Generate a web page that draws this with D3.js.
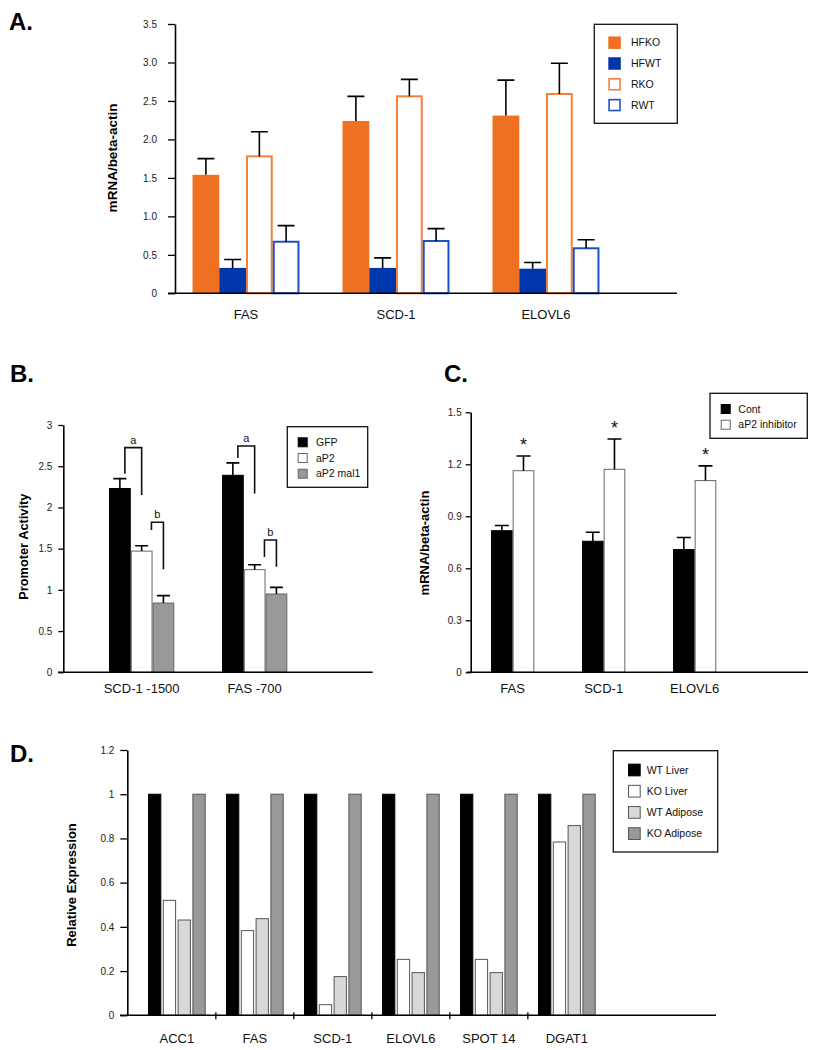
<!DOCTYPE html>
<html>
<head>
<meta charset="utf-8">
<script src="https://cdn.jsdelivr.net/npm/d3@7"></script>
<style>
  body { margin: 0; background: #fff; }
  svg { display: block; font-family: "Liberation Sans", Arial, Helvetica, sans-serif; }
</style>
</head>
<body>
<svg id="chart" width="813" height="1050"></svg>
<script>
// ---- Panel A data ----
const aCategories = ["FAS", "SCD-1", "ELOVL6"];
const aSeries = ["HFKO", "HFWT", "RKO", "RWT"];
const aValues = [
  [1.54, 2.24, 2.31],
  [0.33, 0.33, 0.32],
  [1.78, 2.56, 2.59],
  [0.67, 0.68, 0.585]
];
const aErrors = [
  [0.21, 0.32, 0.46],
  [0.11, 0.13, 0.08],
  [0.32, 0.22, 0.40],
  [0.21, 0.16, 0.11]
];
const aTicks = [0, 0.5, 1.0, 1.5, 2.0, 2.5, 3.0, 3.5];

// ---- Panel B data ----
const bCategories = ["SCD-1 -1500", "FAS -700"];
const bSeries = ["GFP", "aP2", "aP2 mal1"];
const bValues = [
  [2.23, 2.39],
  [1.47, 1.245],
  [0.84, 0.95]
];
const bErrors = [
  [0.12, 0.15],
  [0.065, 0.06],
  [0.09, 0.08]
];
const bTicks = [0, 0.5, 1, 1.5, 2, 2.5, 3];
// significance brackets: category, from series, to series, heights in data units
const bBrackets = [
  { cat: "SCD-1 -1500", label: "a", from: 0, to: 1, top: 2.725, leftEnd: 2.41, rightEnd: 2.15 },
  { cat: "SCD-1 -1500", label: "b", from: 1, to: 2, top: 1.82, leftEnd: 1.725, rightEnd: 1.25 },
  { cat: "FAS -700", label: "a", from: 0, to: 1, top: 2.745, leftEnd: 2.60, rightEnd: 2.17 },
  { cat: "FAS -700", label: "b", from: 1, to: 2, top: 1.605, leftEnd: 1.40, rightEnd: 1.28 }
];

// ---- Panel C data ----
const cCategories = ["FAS", "SCD-1", "ELOVL6"];
const cSeries = ["Cont", "aP2 inhibitor"];
const cValues = [
  [0.817, 0.756, 0.708],
  [1.163, 1.171, 1.106]
];
const cErrors = [
  [0.03, 0.052, 0.07],
  [0.085, 0.175, 0.085]
];
const cMarks = ["*", "*", "*"];
const cTicks = [0, 0.3, 0.6, 0.9, 1.2, 1.5];

// ---- Panel D data ----
const dCategories = ["ACC1", "FAS", "SCD-1", "ELOVL6", "SPOT 14", "DGAT1"];
const dSeries = ["WT Liver", "KO Liver", "WT Adipose", "KO Adipose"];
const dValues = [
  [1, 1, 1, 1, 1, 1],
  [0.52, 0.383, 0.048, 0.253, 0.253, 0.784],
  [0.431, 0.437, 0.175, 0.193, 0.193, 0.858],
  [1, 1, 1, 1, 1, 1]
];
const dTicks = [0, 0.2, 0.4, 0.6, 0.8, 1, 1.2];

const svg = d3.select("#chart");

// flatten series x category into rows
function rows(cats, series, values, errors) {
  const out = [];
  series.forEach((s, si) => cats.forEach((c, ci) => {
    out.push({ cat: c, series: s, si: si, value: values[si][ci], err: errors ? errors[si][ci] : 0 });
  }));
  return out;
}

function yAxis(y, x, ticks, size, pad, fmt) {
  const g = svg.append("g")
    .attr("transform", `translate(${x},0)`)
    .call(d3.axisLeft(y).tickValues(ticks).tickSize(size).tickSizeOuter(0)
      .tickPadding(pad).tickFormat(fmt || d3.format("")));
  g.select(".domain").attr("stroke-width", 1.6);
  g.selectAll(".tick line").attr("stroke-width", 1.3);
  g.selectAll(".tick text").attr("font-size", 10).attr("fill", "#222")
    .attr("font-family", "Liberation Sans, Arial, sans-serif");
  return g;
}

function baseline(x1, x2, yy) {
  svg.append("line").attr("x1", x1).attr("x2", x2).attr("y1", yy).attr("y2", yy)
    .attr("stroke", "#000").attr("stroke-width", 1.6);
}

function yLabel(text, x, cy, size) {
  svg.append("text")
    .attr("transform", `translate(${x},${cy}) rotate(-90)`)
    .attr("text-anchor", "middle")
    .attr("font-size", size).attr("font-weight", "bold")
    .text(text);
}

function panelLetter(text, x, yy, size) {
  svg.append("text").attr("x", x).attr("y", yy)
    .attr("font-size", size).attr("font-weight", "bold")
    .attr("font-family", "Liberation Sans, Arial, sans-serif")
    .text(text);
}

function catLabels(x0, cats, yy, size) {
  svg.append("g").selectAll("text").data(cats).join("text")
    .attr("x", d => x0(d) + x0.bandwidth() / 2)
    .attr("y", yy)
    .attr("text-anchor", "middle")
    .attr("font-size", size)
    .attr("fill", "#111")
    .text(d => d);
}

function errorBars(data, x0, x1, y, cap) {
  svg.append("g").selectAll("path").data(data.filter(d => d.err > 0)).join("path")
    .attr("d", d => {
      const cx = x0(d.cat) + x1(d.series) + x1.bandwidth() / 2;
      const y1 = y(d.value), y2 = y(d.value + d.err);
      return `M${cx},${y1}V${y2}M${cx - cap / 2},${y2}H${cx + cap / 2}`;
    })
    .attr("fill", "none").attr("stroke", "#000").attr("stroke-width", 1.6);
}

// legend box; sx = swatch left, tx = text offset from swatch left
function legend(x, yy, w, h, items, opts) {
  const g = svg.append("g").attr("transform", `translate(${x},${yy})`);
  g.append("rect").attr("width", w).attr("height", h)
    .attr("fill", "#fff").attr("stroke", "#111").attr("stroke-width", 1.3);
  const it = g.selectAll("g.item").data(items).join("g")
    .attr("transform", (d, i) => `translate(${opts.sx},${opts.y0 + i * opts.dy})`);
  it.append("rect")
    .attr("x", d => d.sw ? d.sw / 2 : 0)
    .attr("y", d => -opts.ss / 2 + (d.sw ? d.sw / 2 : 0))
    .attr("width", d => opts.ss - (d.sw || 0))
    .attr("height", d => opts.ss - (d.sw || 0))
    .attr("fill", d => d.fill)
    .attr("stroke", d => d.stroke || "none")
    .attr("stroke-width", d => d.sw || 0);
  it.append("text").attr("x", opts.tx).attr("y", 0).attr("dy", "0.35em")
    .attr("font-size", opts.fs).attr("fill", "#111").text(d => d.name);
}

// ================= Panel A =================
{
  const y = d3.scaleLinear().domain([0, 3.5]).range([293.3, 24]);
  const x0 = d3.scaleBand().domain(aCategories).range([171, 621]).paddingInner(0.287).paddingOuter(0.1435);
  const x1 = d3.scaleBand().domain(aSeries).range([0, x0.bandwidth()]);
  const style = {
    HFKO: { fill: "#F07022", stroke: null },
    HFWT: { fill: "#0036AC", stroke: null },
    RKO: { fill: "#fff", stroke: "#F2813A" },
    RWT: { fill: "#fff", stroke: "#1E50C8" }
  };
  const data = rows(aCategories, aSeries, aValues, aErrors);

  svg.append("g").selectAll("rect").data(data).join("rect")
    .attr("x", d => x0(d.cat) + x1(d.series) + (style[d.series].stroke ? 1 : 0))
    .attr("width", d => x1.bandwidth() - (style[d.series].stroke ? 2 : 0))
    .attr("y", d => y(d.value))
    .attr("height", d => y(0) - y(d.value))
    .attr("fill", d => style[d.series].fill)
    .attr("stroke", d => style[d.series].stroke || "none")
    .attr("stroke-width", 2);

  errorBars(data, x0, x1, y, 17);
  yAxis(y, 175, aTicks, 7, 11, d => d === 0 ? "0" : d3.format(".1f")(d));
  baseline(168, 677, y(0));
  catLabels(x0, aCategories, 318.5, 13);
  yLabel("mRNA/beta-actin", 117, 158, 13.5);
  panelLetter("A.", 9, 29.5, 24);

  legend(594.3, 24.3, 83, 99,
    aSeries.map(s => ({ name: s, fill: style[s].fill, stroke: style[s].stroke, sw: style[s].stroke ? 1.6 : 0 })),
    { sx: 14, y0: 18.4, dy: 20.8, ss: 12.5, tx: 22.7, fs: 10.5 });
}

// ================= Panel B =================
{
  const y = d3.scaleLinear().domain([0, 3]).range([672.3, 425]);
  const x0 = d3.scaleBand().domain(bCategories).range([85.15, 311.15]).paddingInner(0.422).paddingOuter(0.211);
  const x1 = d3.scaleBand().domain(bSeries).range([0, x0.bandwidth()]);
  const fills = { "GFP": "#000", "aP2": "#fff", "aP2 mal1": "#999" };
  const strokes = { "GFP": "#000", "aP2": "#666", "aP2 mal1": "#666" };
  const data = rows(bCategories, bSeries, bValues, bErrors);

  svg.append("g").selectAll("rect").data(data).join("rect")
    .attr("x", d => x0(d.cat) + x1(d.series) + 0.5)
    .attr("width", x1.bandwidth() - 1)
    .attr("y", d => y(d.value))
    .attr("height", d => y(0) - y(d.value))
    .attr("fill", d => fills[d.series])
    .attr("stroke", d => strokes[d.series])
    .attr("stroke-width", 1);

  errorBars(data, x0, x1, y, 13);

  // significance brackets
  const legOffset = { a: 0.23, b: 0.45 };
  const bw = x1.bandwidth();
  const bg = svg.append("g");
  bBrackets.forEach(b => {
    const xl = x0(b.cat) + x1(bSeries[b.from]) + bw / 2 + legOffset[b.label] * bw;
    const xr = x0(b.cat) + x1(bSeries[b.to]) + bw / 2;
    bg.append("path")
      .attr("d", `M${xl},${y(b.leftEnd)}V${y(b.top)}H${xr}V${y(b.rightEnd)}`)
      .attr("fill", "none").attr("stroke", "#111").attr("stroke-width", 1.6);
    bg.append("text").attr("x", (xl + xr) / 2).attr("y", y(b.top) - 4)
      .attr("text-anchor", "middle").attr("font-size", 11).attr("fill", "#111").text(b.label);
  });

  yAxis(y, 63.3, bTicks, 5, 6);
  baseline(58, 372.7, y(0));
  catLabels(x0, bCategories, 693, 13);
  yLabel("Promoter Activity", 28, 546.7, 12.8);
  panelLetter("B.", 10, 382.3, 24);

  legend(287.3, 426.7, 80.4, 60.6,
    bSeries.map(s => ({ name: s, fill: fills[s], stroke: strokes[s], sw: 1 })),
    { sx: 10.4, y0: 15.6, dy: 15.7, ss: 10, tx: 18.3, fs: 10.5 });
}

// ================= Panel C =================
{
  const y = d3.scaleLinear().domain([0, 1.5]).range([672.3, 412.3]);
  const x0 = d3.scaleBand().domain(cCategories).range([467.15, 740.15]).paddingInner(0.524).paddingOuter(0.262);
  const x1 = d3.scaleBand().domain(cSeries).range([0, x0.bandwidth()]);
  const fills = { "Cont": "#000", "aP2 inhibitor": "#fff" };
  const strokes = { "Cont": "#000", "aP2 inhibitor": "#666" };
  const data = rows(cCategories, cSeries, cValues, cErrors);

  svg.append("g").selectAll("rect").data(data).join("rect")
    .attr("x", d => x0(d.cat) + x1(d.series) + 0.5)
    .attr("width", x1.bandwidth() - 1)
    .attr("y", d => y(d.value))
    .attr("height", d => y(0) - y(d.value))
    .attr("fill", d => fills[d.series])
    .attr("stroke", d => strokes[d.series])
    .attr("stroke-width", 1);

  errorBars(data, x0, x1, y, 14);

  // significance marks above the inhibitor bars
  svg.append("g").selectAll("text").data(cCategories).join("text")
    .attr("x", (d, i) => x0(d) + x1(cSeries[1]) + x1.bandwidth() / 2)
    .attr("y", (d, i) => y(cValues[1][i] + cErrors[1][i]) - 5)
    .attr("text-anchor", "middle").attr("font-size", 18).attr("fill", "#111")
    .text((d, i) => cMarks[i]);

  yAxis(y, 470.7, cTicks, 5, 4);
  baseline(466.7, 808, y(0));
  catLabels(x0, cCategories, 693, 13);
  yLabel("mRNA/beta-actin", 429, 543, 13);
  panelLetter("C.", 444, 382.3, 24);

  legend(710, 393.3, 97.3, 45,
    cSeries.map(s => ({ name: s, fill: fills[s], stroke: strokes[s], sw: 1 })),
    { sx: 10.7, y0: 15.7, dy: 15.7, ss: 10, tx: 17.6, fs: 10.5 });
}

// ================= Panel D =================
{
  const y = d3.scaleLinear().domain([0, 1.2]).range([1015.3, 750]);
  const x0 = d3.scaleBand().domain(dCategories).range([137.85, 605.85]).paddingInner(0.26).paddingOuter(0.13);
  const x1 = d3.scaleBand().domain(dSeries).range([0, x0.bandwidth()]).paddingInner(0.1);
  const fills = { "WT Liver": "#000", "KO Liver": "#fff", "WT Adipose": "#d8d8d8", "KO Adipose": "#999" };
  const strokes = { "WT Liver": "#000", "KO Liver": "#555", "WT Adipose": "#555", "KO Adipose": "#555" };
  const data = rows(dCategories, dSeries, dValues, null);

  svg.append("g").selectAll("rect").data(data).join("rect")
    .attr("x", d => x0(d.cat) + x1(d.series) + 0.5)
    .attr("width", x1.bandwidth() - 1)
    .attr("y", d => y(d.value))
    .attr("height", d => y(0) - y(d.value))
    .attr("fill", d => fills[d.series])
    .attr("stroke", d => strokes[d.series])
    .attr("stroke-width", 1);

  yAxis(y, 127.3, dTicks, 7, 6);
  baseline(120, 716, y(0));

  // small separator ticks between categories
  const step = x0.step();
  svg.append("g").selectAll("line").data(dCategories.slice(1)).join("line")
    .attr("x1", d => x0(d) - (step - x0.bandwidth()) / 2)
    .attr("x2", d => x0(d) - (step - x0.bandwidth()) / 2)
    .attr("y1", y(0) - 3).attr("y2", y(0) + 4)
    .attr("stroke", "#000").attr("stroke-width", 1.3);

  catLabels(x0, dCategories, 1043, 13);
  yLabel("Relative Expression", 76, 885, 13);
  panelLetter("D.", 10, 762.3, 24);

  legend(613.3, 750.7, 104.4, 101.3,
    dSeries.map(s => ({ name: s, fill: fills[s], stroke: strokes[s], sw: 1 })),
    { sx: 14.7, y0: 19.3, dy: 21.2, ss: 12.7, tx: 18.7, fs: 10.5 });
}
</script>
</body>
</html>
